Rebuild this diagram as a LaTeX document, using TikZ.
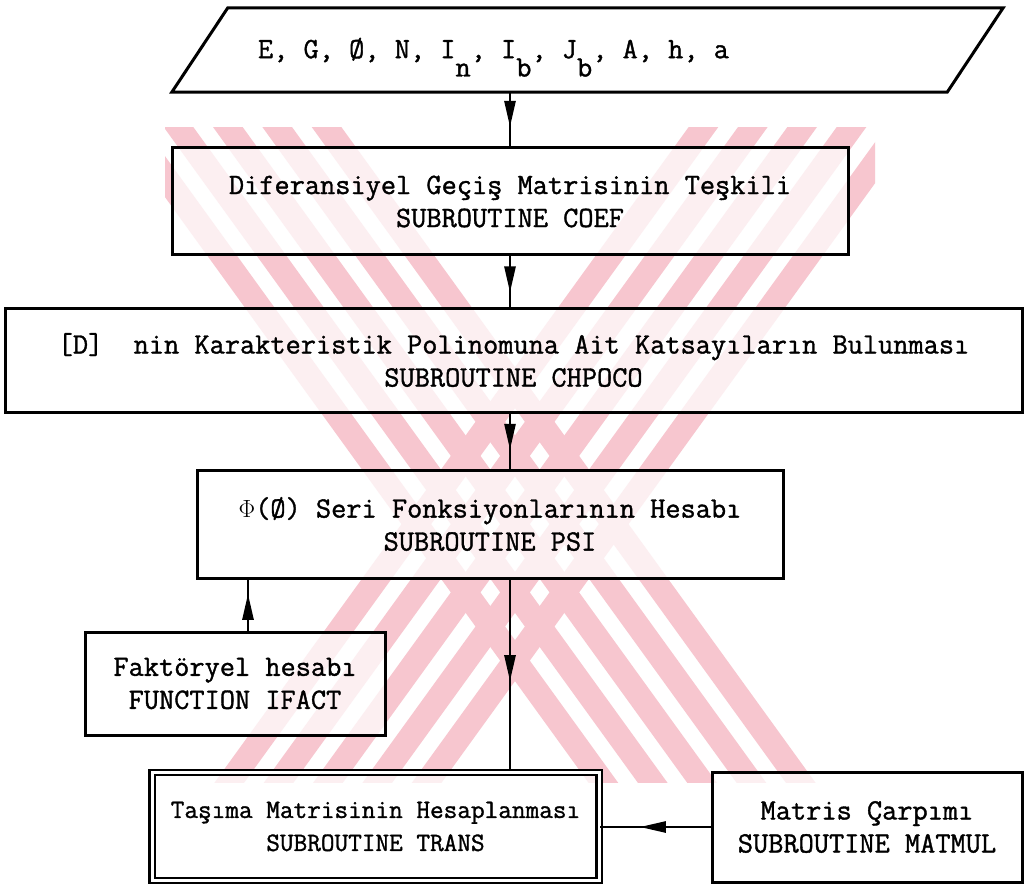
\documentclass[tikz,border=0pt]{standalone}
\usepackage{fontspec}
\newfontfamily\tw[FakeBold=1.2]{Latin Modern Mono}
\usetikzlibrary{arrows.meta,decorations.markings}
\newcommand\lowsub[1]{\smash{\raisebox{-0.62em}{#1}}}
\definecolor{wmpink}{RGB}{247,198,207}
\begin{document}
\begin{tikzpicture}[x=1pt,y=-1pt,
  every node/.style={font=\tw\fontsize{29.5}{33}\selectfont, align=center, inner sep=0pt},
  box/.style={draw, line width=3pt, fill=white, fill opacity=0.72, text opacity=1, draw opacity=1},
  conn/.style={line width=2.6pt, postaction={decorate, decoration={markings, mark=at position #1 with {\arrow{Triangle[length=26pt,width=11pt]}}}}},
  conn/.default=0.6,
  wm/.style={wmpink, line width=24pt}]
\useasboundingbox (0,0) rectangle (1025,885);
\fill[white] (0,0) rectangle (1025,885);

% background watermark stripes
\begin{scope}
\clip (165,128) rectangle (875,782);
\foreach \k in {-2,-1,0,1,2}{
  \pgfmathsetmacro\ox{\k*40*0.810}\pgfmathsetmacro\oy{-\k*40*0.586}
  \draw[wm] (171.4+\ox,49+\oy) -- (758.6+\ox,861+\oy);
  \pgfmathsetmacro\px{\k*40*0.810}\pgfmathsetmacro\py{\k*40*0.586}
  \draw[wm] (858.6+\px,49+\py) -- (271.4+\px,861+\py);
}
\end{scope}

% input parallelogram
\node[minimum width=775, minimum height=84] (io) at (587.5,50)
  {\makebox[775pt][l]{\hspace{58pt}\raisebox{4pt}{E, G, Ø, N, I\lowsub{n}, I\lowsub{b}, J\lowsub{b}, A, h, a}}};
\draw[line width=3pt] ([xshift=28pt]io.north west) -- ([xshift=28pt]io.north east)
  -- ([xshift=-28pt]io.south east) -- ([xshift=-28pt]io.south west) -- cycle;

\node[box, minimum width=676, minimum height=107] (b1) at (510,201.5)
  {Diferansiyel Geçiş Matrisinin Teşkili\\SUBROUTINE COEF};
\node[box, minimum width=1017, minimum height=104] (b2) at (513.5,360)
  {[D]\ \ nin Karakteristik Polinomuna Ait Katsayıların Bulunması\\SUBROUTINE CHPOCO};
\node[box, minimum width=586, minimum height=108] (b3) at (490,524)
  {$\Phi$(Ø) Seri Fonksiyonlarının Hesabı\\SUBROUTINE PSI};
\node[box, minimum width=300, minimum height=103] (b4) at (235,683.5)
  {Faktöryel hesabı\\FUNCTION IFACT};
\node[box, double, double distance=3pt, line width=2.2pt, minimum width=447, minimum height=108,
  font=\tw\fontsize{26.5}{33}\selectfont] (tr) at (375.5,826.5)
  {Taşıma Matrisinin Hesaplanması\\SUBROUTINE TRANS};
\node[box, minimum width=310, minimum height=110] (mm) at (867,827)
  {Matris Çarpımı\\SUBROUTINE MATMUL};

% connectors
\draw[conn=0.64] (io.south -| b1.south) -- (b1.north);
\draw[conn=0.72] (b1.south) -- (b1.south |- b2.north);
\draw[conn=0.66] (b1.south |- b2.south) -- (b1.south |- b3.north);
\draw[conn=0.72] ([xshift=13pt]b4.north) -- ([xshift=13pt]b4.north |- b3.south);
\draw[conn=0.53] (b1.south |- b3.south) -- (b1.south |- tr.north);
\draw[conn=0.64] (mm.west) -- (mm.west -| tr.east);
\end{tikzpicture}
\end{document}
